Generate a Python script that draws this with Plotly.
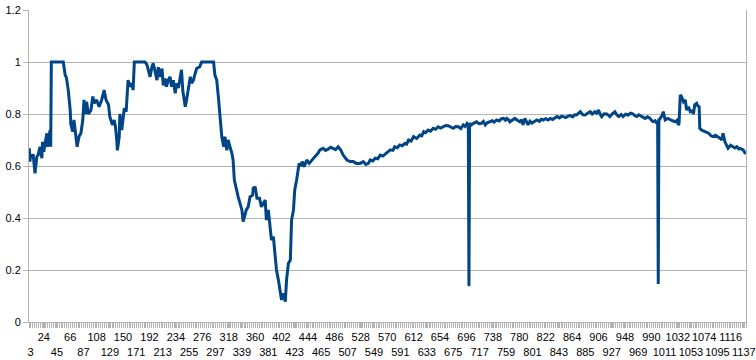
import plotly.graph_objects as go

# category index (1..1140) and measured value at that category
categories = [
    1, 2, 3, 6, 7, 10, 13, 15, 18, 21, 22, 24, 27, 29, 30, 34, 35, 36, 45, 55,
    58, 60, 63, 66, 67, 70, 72, 75, 77, 80, 83, 86, 88, 90, 92, 95, 99, 102, 104, 108,
    112, 116, 120, 123, 127, 129, 133, 136, 138, 140, 141, 144, 145, 148, 150, 152, 155, 157, 158, 161,
    164, 166, 168, 176, 185, 188, 190, 193, 196, 198, 201, 204, 206, 209, 212, 214, 217, 219, 222, 225,
    227, 230, 233, 235, 238, 243, 245, 249, 251, 254, 257, 259, 262, 264, 267, 272, 275, 285, 294, 296,
    299, 302, 304, 307, 310, 312, 315, 317, 320, 323, 325, 327, 333, 339, 341, 346, 349, 352, 356, 357,
    360, 363, 367, 370, 376, 378, 381, 384, 386, 389, 392, 394, 397, 400, 402, 405, 408, 410, 413, 416,
    418, 421, 423, 426, 430, 433, 435, 438, 442, 446, 450, 455, 460, 463, 468, 472, 476, 480, 484, 488,
    492, 496, 500, 506, 511, 516, 521, 527, 532, 536, 540, 543, 547, 551, 555, 559, 563, 567, 571, 575,
    579, 582, 586, 590, 594, 598, 601, 604, 608, 612, 617, 622, 625, 628, 631, 635, 639, 643, 647, 651,
    655, 659, 663, 667, 671, 675, 679, 683, 687, 691, 694, 697, 699, 700, 701, 704, 708, 712, 716, 720,
    723, 726, 729, 733, 737, 740, 744, 748, 751, 755, 758, 760, 763, 765, 769, 773, 777, 781, 784, 786,
    789, 792, 794, 797, 800, 804, 808, 812, 815, 818, 822, 826, 829, 833, 837, 840, 844, 847, 850, 854,
    858, 861, 865, 868, 871, 874, 877, 881, 885, 889, 893, 896, 900, 903, 906, 909, 911, 915, 919, 922,
    924, 928, 932, 935, 938, 942, 945, 949, 953, 957, 961, 964, 967, 970, 974, 977, 980, 984, 988, 990,
    993, 996, 999, 1000, 1001, 1002, 1003, 1004, 1007, 1009, 1012, 1016, 1020, 1024, 1028, 1031, 1033, 1034, 1036, 1038,
    1041, 1044, 1046, 1049, 1052, 1055, 1057, 1059, 1062, 1064, 1066, 1067, 1070, 1073, 1075, 1078, 1081, 1085, 1088, 1092,
    1096, 1099, 1102, 1104, 1107, 1110, 1112, 1116, 1120, 1123, 1126, 1129, 1131, 1134, 1136, 1140,
]
values = [
    0.668, 0.617, 0.642, 0.636, 0.646, 0.572, 0.636, 0.642, 0.674, 0.630, 0.693, 0.655, 0.700, 0.726, 0.674, 0.738, 0.674, 1.000, 1.000, 1.000,
    0.950, 0.940, 0.890, 0.815, 0.760, 0.732, 0.777, 0.713, 0.674, 0.713, 0.726, 0.777, 0.854, 0.800, 0.847, 0.800, 0.815, 0.867, 0.841, 0.854,
    0.828, 0.854, 0.892, 0.854, 0.835, 0.790, 0.758, 0.777, 0.751, 0.700, 0.660, 0.713, 0.800, 0.738, 0.783, 0.822, 0.809, 0.880, 0.930, 0.905,
    0.918, 0.892, 1.000, 1.000, 1.000, 0.990, 0.970, 0.943, 0.982, 0.995, 0.963, 0.930, 0.980, 0.943, 0.975, 0.910, 0.937, 0.905, 0.930, 0.943,
    0.905, 0.930, 0.880, 0.918, 0.900, 0.970, 0.890, 0.828, 0.854, 0.892, 0.943, 0.918, 0.930, 0.950, 0.975, 0.982, 1.000, 1.000, 1.000, 0.950,
    0.930, 0.854, 0.790, 0.713, 0.674, 0.713, 0.660, 0.700, 0.674, 0.650, 0.623, 0.546, 0.482, 0.431, 0.386, 0.431, 0.443, 0.482, 0.488, 0.514,
    0.520, 0.476, 0.476, 0.443, 0.469, 0.392, 0.431, 0.354, 0.315, 0.328, 0.251, 0.200, 0.162, 0.123, 0.085, 0.110, 0.078, 0.162, 0.226, 0.238,
    0.392, 0.431, 0.508, 0.546, 0.610, 0.600, 0.617, 0.597, 0.623, 0.610, 0.623, 0.636, 0.649, 0.662, 0.668, 0.660, 0.665, 0.672, 0.668, 0.663,
    0.674, 0.662, 0.642, 0.623, 0.617, 0.617, 0.610, 0.610, 0.617, 0.606, 0.610, 0.623, 0.619, 0.630, 0.628, 0.642, 0.638, 0.646, 0.652, 0.662,
    0.660, 0.674, 0.670, 0.681, 0.678, 0.687, 0.684, 0.700, 0.696, 0.713, 0.706, 0.719, 0.716, 0.732, 0.728, 0.738, 0.734, 0.745, 0.741, 0.751,
    0.746, 0.751, 0.756, 0.755, 0.749, 0.745, 0.752, 0.751, 0.744, 0.758, 0.752, 0.764, 0.760, 0.138, 0.764, 0.758, 0.765, 0.770, 0.763, 0.764,
    0.771, 0.758, 0.766, 0.770, 0.774, 0.769, 0.777, 0.773, 0.781, 0.783, 0.776, 0.783, 0.778, 0.770, 0.777, 0.783, 0.776, 0.770, 0.778, 0.758,
    0.783, 0.768, 0.758, 0.772, 0.765, 0.771, 0.777, 0.772, 0.780, 0.777, 0.782, 0.777, 0.783, 0.779, 0.786, 0.790, 0.785, 0.791, 0.790, 0.786,
    0.792, 0.794, 0.789, 0.797, 0.796, 0.802, 0.809, 0.797, 0.796, 0.804, 0.809, 0.800, 0.809, 0.803, 0.815, 0.798, 0.790, 0.801, 0.800, 0.795,
    0.790, 0.801, 0.809, 0.797, 0.790, 0.798, 0.790, 0.799, 0.796, 0.803, 0.800, 0.793, 0.790, 0.797, 0.790, 0.786, 0.783, 0.789, 0.783, 0.776,
    0.770, 0.774, 0.764, 0.775, 0.146, 0.783, 0.779, 0.783, 0.794, 0.809, 0.777, 0.783, 0.777, 0.774, 0.770, 0.776, 0.758, 0.762, 0.873, 0.867,
    0.847, 0.854, 0.815, 0.828, 0.809, 0.812, 0.800, 0.835, 0.841, 0.830, 0.828, 0.745, 0.738, 0.735, 0.732, 0.728, 0.726, 0.716, 0.713, 0.718,
    0.713, 0.707, 0.700, 0.726, 0.693, 0.680, 0.668, 0.680, 0.674, 0.669, 0.674, 0.666, 0.668, 0.664, 0.662, 0.646,
]

tick_values = [3 + 21 * i for i in range(55)]
tick_labels = [str(v) if i % 2 else "<br>" + str(v) for i, v in enumerate(tick_values)]
y_ticks = [0, 0.2, 0.4, 0.6, 0.8, 1, 1.2]
y_labels = ["0", "0.2", "0.4", "0.6", "0.8", "1", "1.2"]

grey = "#b3b3b3"
fig = go.Figure(
    go.Scatter(
        x=categories,
        y=values,
        mode="lines",
        line=dict(color="#004586", width=3),
        hoverinfo="skip",
    )
)
fig.update_layout(
    width=756,
    height=360,
    margin=dict(l=29, r=10, t=10, b=38),
    paper_bgcolor="white",
    plot_bgcolor="white",
    showlegend=False,
    font=dict(family="Liberation Sans, Arial, sans-serif", size=11, color="#000000"),
)
fig.update_xaxes(
    range=[0.5, 1140.5],
    automargin=False,
    tickmode="array",
    tickvals=tick_values,
    ticktext=tick_labels,
    tickangle=0,
    showgrid=False,
    zeroline=False,
    showline=True,
    linecolor=grey,
    linewidth=1,
    ticks="outside",
    ticklen=5,
    tickcolor=grey,
    minor=dict(tickmode="linear", tick0=0.5, dtick=3, ticks="outside", ticklen=5, tickcolor=grey, showgrid=False),
)
fig.update_yaxes(
    range=[0, 1.2],
    automargin=False,
    tickmode="array",
    tickvals=y_ticks,
    ticktext=y_labels,
    showgrid=True,
    gridcolor=grey,
    gridwidth=1,
    zeroline=False,
    showline=True,
    mirror=True,
    linecolor=grey,
    linewidth=1,
    ticks="outside",
    ticklen=5,
    tickcolor=grey,
)
fig.write_html("out.html")
